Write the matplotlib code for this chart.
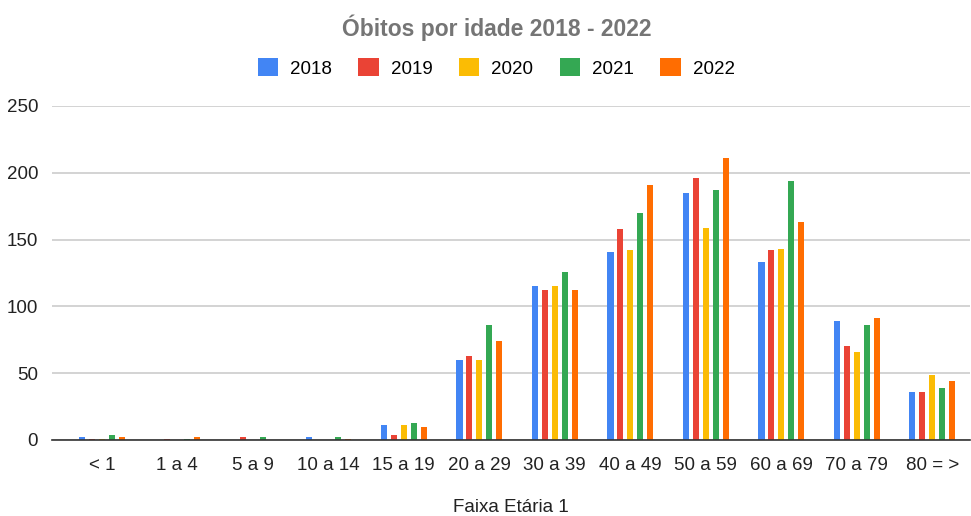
import numpy as np
import matplotlib
matplotlib.use('Agg')
import matplotlib.pyplot as plt

plt.rcParams['font.family'] = ['Liberation Sans', 'DejaVu Sans']

faixas = ['< 1', '1 a 4', '5 a 9', '10 a 14', '15 a 19', '20 a 29',
          '30 a 39', '40 a 49', '50 a 59', '60 a 69', '70 a 79', '80 = >']
anos = ['2018', '2019', '2020', '2021', '2022']

v2018 = [2, 0, 0, 2, 11, 60, 115, 141, 185, 133, 89, 36]
v2019 = [1, 1, 2, 0, 4, 63, 112, 158, 196, 142, 70, 36]
v2020 = [1, 0, 0, 0, 11, 60, 115, 142, 159, 143, 66, 49]
v2021 = [4, 1, 2, 2, 13, 86, 126, 170, 187, 194, 86, 39]
v2022 = [2, 2, 0, 1, 10, 74, 112, 191, 211, 163, 91, 44]

cores = ['#4285F4', '#EA4335', '#FBBC04', '#34A853', '#FF6D01']
series = [v2018, v2019, v2020, v2021, v2022]

fig = plt.figure(figsize=(9.71, 5.16), dpi=100)
ax = fig.add_axes([52/971, 1-440/516, 918/971, 334/516])

x = np.arange(len(faixas))
passo = 0.131
for i, (vals, cor, ano) in enumerate(zip(series, cores, anos)):
    ax.bar(x + (i-2)*passo, vals, width=0.08, color=cor, label=ano, zorder=3)

ax.set_xlim(-0.66, 11.5)
ax.set_ylim(0, 250)
ax.set_yticks([0, 50, 100, 150, 200, 250])
ax.set_xticks(x)
ax.set_xticklabels(faixas)
ax.tick_params(length=0, labelsize=13.5, colors='#222222')
ax.tick_params(axis='y', pad=10)
ax.tick_params(axis='x', pad=12)
ax.grid(axis='y', color='#cccccc', linewidth=1.2, zorder=0)
for s in ['top', 'right', 'left']:
    ax.spines[s].set_visible(False)
ax.spines['bottom'].set_color('#333333')
ax.spines['bottom'].set_linewidth(1.2)
ax.spines['bottom'].set_zorder(4)

ax.set_xlabel('Faixa Etária 1', fontsize=13.5, color='#222222', labelpad=18)

fig.text(0.512, 1-28/516, 'Óbitos por idade 2018 - 2022', ha='center', va='center',
         fontsize=16.5, fontweight='bold', color='#757575')

fig.legend(loc='center', bbox_to_anchor=(0.511, 1-68/516), ncol=5, frameon=False,
           fontsize=13.5, handlelength=1.1, handleheight=1.1, columnspacing=1.4,
           handletextpad=0.63)

fig.savefig('out.png', dpi=100)
